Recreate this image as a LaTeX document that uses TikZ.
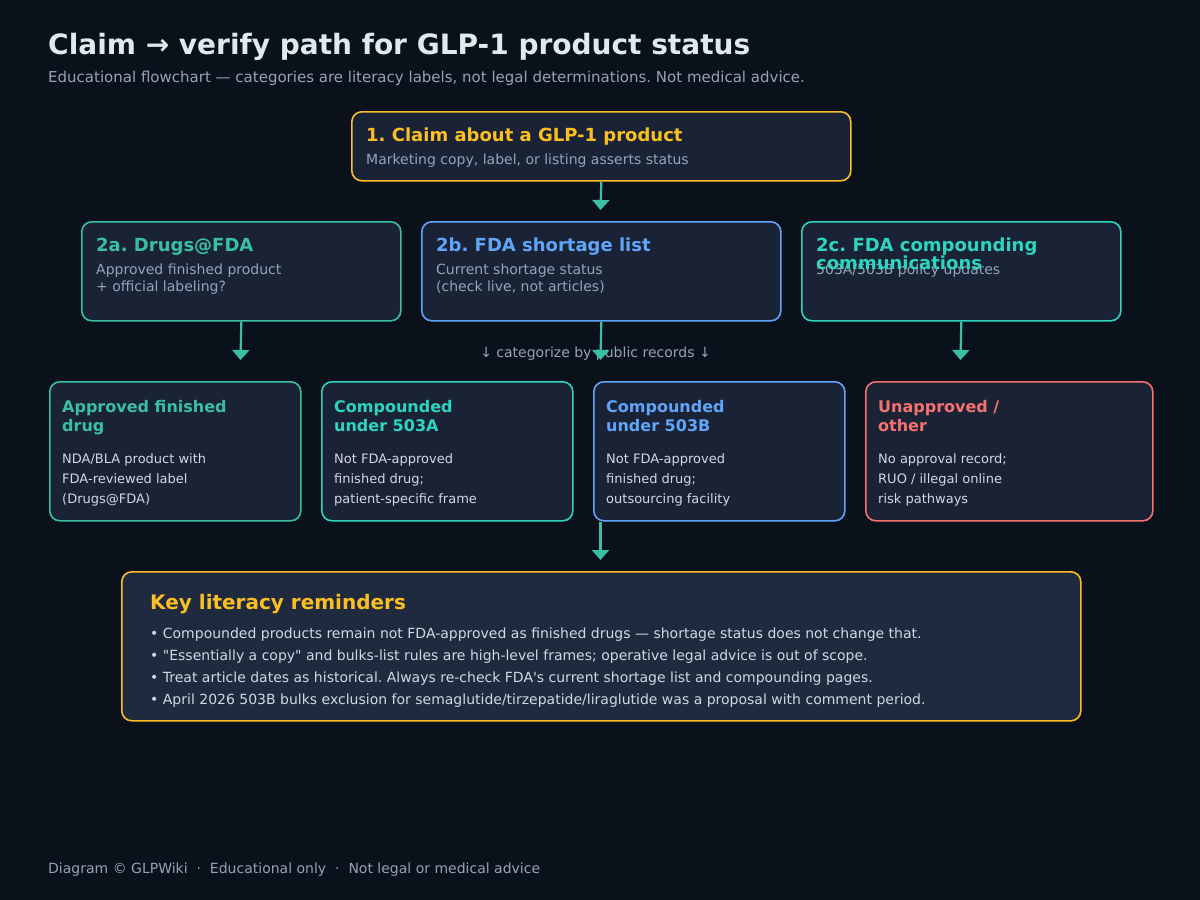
\documentclass[tikz,border=0pt]{standalone}
\usepackage{fontspec}
\setmainfont{DejaVu Sans}
\usetikzlibrary{arrows.meta}
\definecolor{glpbg}{HTML}{0B111B}
\definecolor{glpcard}{HTML}{1A2335}
\definecolor{glpkey}{HTML}{1F2A3E}
\definecolor{glpamber}{HTML}{FBBF24}
\definecolor{glpteal}{HTML}{3BBFA3}
\definecolor{glpcyan}{HTML}{2DD4BF}
\definecolor{glpblue}{HTML}{60A5FA}
\definecolor{glpred}{HTML}{F87171}
\definecolor{glpgray}{HTML}{94A3B8}
\definecolor{glplight}{HTML}{CFD8E3}
\definecolor{glpwhite}{HTML}{E2E8F0}
\frenchspacing

\begin{document}
\begin{tikzpicture}[x=1pt, y=-1pt,
  card/.style={draw, line width=1.6pt, fill=glpcard, rounded corners=10pt,
    anchor=north west, inner sep=0pt},
  head/.style={anchor=north west, inner sep=0pt, align=left,
    font=\bfseries\fontsize{18}{18}\selectfont},
  subhead/.style={anchor=north west, inner sep=0pt, align=left,
    font=\bfseries\fontsize{16}{19}\selectfont},
  note/.style={anchor=north west, inner sep=0pt, align=left, text=glpgray,
    font=\fontsize{14}{17}\selectfont},
  body/.style={anchor=north west, inner sep=0pt, align=left, text=glplight,
    font=\fontsize{13}{20}\selectfont},
  flow/.style={-{Triangle[length=10pt, width=17pt]}, line width=2.2pt, glpteal}]

\fill[glpbg] (0,0) rectangle (1200,900);
\useasboundingbox (0,0) rectangle (1200,900);

% Title
\node[anchor=base west, inner sep=0pt, text=glpwhite,
  font=\bfseries\fontsize{28}{32}\selectfont] (title) at (48,54)
  {Claim → verify path for GLP-1 product status};
\node[anchor=base west, inner sep=0pt, text=glpgray,
  font=\fontsize{15}{18}\selectfont] (subtitle) at (48,82)
  {Educational flowchart — categories are literacy labels, not legal determinations. Not medical advice.};

% Step 1
\node[card, draw=glpamber, minimum width=499pt, minimum height=69pt] (claim) at (351,111) {};
\node[head, text=glpamber] (claimhead) at (366,128) {1. Claim about a GLP-1 product};
\node[note] (claimnote) at (366,154) {Marketing copy, label, or listing asserts status};

% Step 2
\node[card, draw=glpteal, minimum width=319pt, minimum height=99pt] (drugs) at (81,221) {};
\node[head, text=glpteal] (drugshead) at (96,238) {2a. Drugs@FDA};
\node[note] (drugsnote) at (96,264) {Approved finished product\\+ official labeling?};

\node[card, draw=glpblue, minimum width=359pt, minimum height=99pt] (short) at (421,221) {};
\node[head, text=glpblue] (shorthead) at (436,238) {2b. FDA shortage list};
\node[note] (shortnote) at (436,264) {Current shortage status\\(check live, not articles)};

\node[card, draw=glpcyan, minimum width=319pt, minimum height=99pt] (comms) at (801,221) {};
\node[note] (commsnote) at (816,264) {503A/503B policy updates};
\node[head, text=glpcyan] (commshead) at (816,238) {2c. FDA compounding\\communications};

\coordinate (stepin) at (600.5,210);
\draw[flow] (claim.south) -- (stepin);

\node[anchor=base, inner sep=0pt, text=glpgray, font=\fontsize{14}{17}\selectfont]
  (sort) at (595.5,357) {↓ categorize by public records ↓};
\coordinate (apin) at (240.5,360);
\coordinate (sortin) at (600.5,360);
\coordinate (othin) at (960.5,360);
\draw[flow] (drugs.south) -- (apin);
\draw[flow] (short.south) -- (sortin);
\draw[flow] (comms.south) -- (othin);

% Categories
\node[card, draw=glpteal, minimum width=251pt, minimum height=139pt] (appr) at (49,381) {};
\node[subhead, text=glpteal] (apprhead) at (62,400) {Approved finished\\drug};
\node[body] (apprbody) at (62,453) {NDA/BLA product with\\FDA-reviewed label\\(Drugs@FDA)};

\node[card, draw=glpcyan, minimum width=251pt, minimum height=139pt] (compa) at (321,381) {};
\node[subhead, text=glpcyan] (compahead) at (334,400) {Compounded\\under 503A};
\node[body] (compabody) at (334,453) {Not FDA-approved\\finished drug;\\patient-specific frame};

\node[card, draw=glpblue, minimum width=251pt, minimum height=139pt] (compb) at (593,381) {};
\node[subhead, text=glpblue] (compbhead) at (606,400) {Compounded\\under 503B};
\node[body] (compbbody) at (606,453) {Not FDA-approved\\finished drug;\\outsourcing facility};

\node[card, draw=glpred, minimum width=287pt, minimum height=139pt] (unappr) at (865,381) {};
\node[subhead, text=glpred] (unapprhead) at (878,400) {Unapproved /\\other};
\node[body] (unapprbody) at (878,453) {No approval record;\\RUO / illegal online\\risk pathways};

% Reminders
\node[card, draw=glpamber, fill=glpkey, minimum width=959pt, minimum height=149pt] (key) at (121,571) {};
\node[anchor=north west, inner sep=0pt, text=glpamber,
  font=\bfseries\fontsize{20}{22}\selectfont] (keyhead) at (150,594) {Key literacy reminders};
\node[body, font=\fontsize{14}{22}\selectfont] (keybody) at (150,627.5)
  {• Compounded products remain not FDA-approved as finished drugs — shortage status does not change that.\\
   • \textquotedbl Essentially a copy\textquotedbl{} and bulks-list rules are high-level frames; operative legal advice is out of scope.\\
   • Treat article dates as historical. Always re-check FDA\textquotesingle s current shortage list and compounding pages.\\
   • April 2026 503B bulks exclusion for semaglutide/tirzepatide/liraglutide was a proposal with comment period.};

\coordinate (keyin) at (600.5,560);
\draw[flow] (compb.south west -| keyin) -- (keyin);

% Footer
\node[anchor=base west, inner sep=0pt, text=glpgray, font=\fontsize{14}{17}\selectfont]
  (footer) at (48,873) {Diagram © GLPWiki~~·~~Educational only~~·~~Not legal or medical advice};

\end{tikzpicture}
\end{document}
